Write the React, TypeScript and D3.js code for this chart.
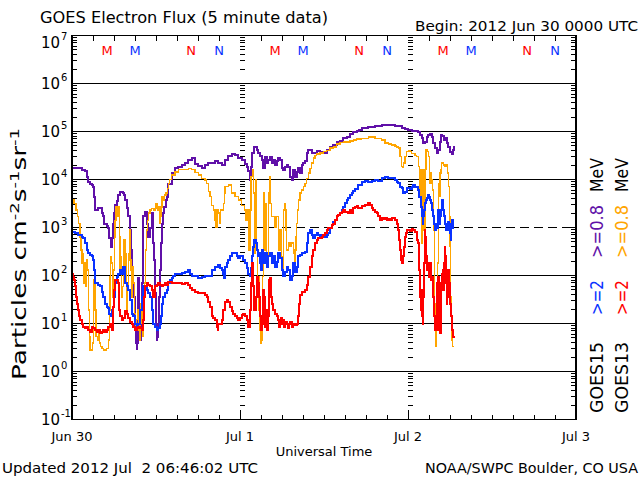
import React from 'react';
import * as d3 from 'd3';

type Pt = [number, number];

// hours since 2012 Jun 30 00:00 UTC, flux
const DAY_LABELS = ['Jun 30', 'Jul 1', 'Jul 2', 'Jul 3'];
const EXPONENTS = [7, 6, 5, 4, 3, 2, 1, 0, -1];
const MARKER_HOURS_G13 = [5, 17];
const MARKER_LABELS_G13 = ['M', 'N'];
const MARKER_HOURS_G15 = [9, 21];
const MARKER_LABELS_G15 = ['M', 'N'];

const g15e08: Pt[] = [[0.1,1.7e4],[1.38,1.6e4],[1.86,1.5e4],[2.1,1.15e4],[2.33,9.0e3],[2.57,8.1e3],[2.81,7.7e3],[3.05,7.1e3],[3.14,4.4e3],[3.29,2.3e3],[3.76,2.5e3],[4.1,2.6e3],[4.24,2.0e3],[4.48,1.7e3],[4.62,1.2e3],[4.95,1.1e3],[5.19,1.0e3],[5.33,5.9e2],[5.52,4.0e2],[5.67,5.9e2],[5.81,1.2e3],[6.0,2.0e3],[6.14,2.9e3],[6.38,3.5e3],[6.62,4.8e3],[6.86,5.6e3],[7.24,5.3e3],[7.43,4.8e3],[7.57,3.7e3],[7.81,2.5e3],[8.05,1.7e3],[8.29,8.9e2],[8.43,3.4e2],[8.52,1.1e2],[8.76,36],[9.0,8.6],[9.1,3.9],[9.24,3.0],[9.33,3.9],[9.38,19],[9.48,87],[9.62,14],[9.71,4.5],[9.81,14],[9.95,69],[10.1,4.7e2],[10.19,1.7e3],[10.43,2.1e3],[10.67,1.2e3],[10.9,6.4e2],[11.14,1.0e3],[11.38,2.0e3],[11.52,8.2e2],[11.62,4.7e2],[11.71,2.1e2],[11.86,43],[11.95,8.6],[12.1,4.5],[12.19,5.3],[12.33,10],[12.48,36],[12.57,1.3e2],[12.67,4.7e2],[12.81,1.2e3],[12.95,2.0e3],[13.19,2.7e3],[13.43,3.7e3],[13.62,4.4e3],[13.76,8.0e3],[14.24,1.35e4],[14.71,1.7e4],[15.19,1.85e4],[15.67,2.0e4],[16.14,2.2e4],[16.62,2.5e4],[17.1,2.8e4],[17.57,2.1e4],[18.05,1.9e4],[18.52,1.7e4],[19.0,2.0e4],[19.48,2.2e4],[19.95,2.2e4],[20.43,2.4e4],[20.9,2.2e4],[21.38,2.0e4],[21.86,2.5e4],[22.33,3.1e4],[22.81,3.4e4],[23.29,3.2e4],[23.76,2.8e4],[24.24,2.5e4],[24.71,2.1e4],[24.95,1.85e4],[25.19,1.5e4],[25.43,9.8e3],[25.57,1.85e4],[25.76,3.5e4],[26.05,4.7e4],[26.38,4.2e4],[26.62,3.5e4],[26.86,3.1e4],[27.1,2.5e4],[27.33,1.7e4],[27.57,3.0e4],[27.81,2.2e4],[28.05,2.5e4],[28.29,3.0e4],[28.52,2.2e4],[28.76,2.5e4],[29.0,2.0e4],[29.24,2.4e4],[29.48,2.8e4],[29.71,2.5e4],[29.95,1.7e4],[30.19,1.6e4],[30.43,1.85e4],[30.67,2.0e4],[30.9,1.85e4],[31.14,1.15e4],[31.38,9.8e3],[31.62,1.6e4],[31.86,1.15e4],[32.1,1.45e4],[32.33,1.7e4],[32.57,1.35e4],[32.81,2.0e4],[33.05,2.2e4],[33.29,2.4e4],[33.52,3.5e4],[33.76,4.2e4],[34.0,4.1e4],[34.24,3.5e4],[34.48,3.6e4],[34.95,4.0e4],[35.43,3.8e4],[35.9,3.6e4],[36.38,4.1e4],[36.86,4.7e4],[37.33,5.2e4],[37.81,5.9e4],[38.29,6.4e4],[38.76,7.2e4],[39.24,7.8e4],[39.71,8.9e4],[40.19,9.6e4],[40.67,1.04e5],[41.05,1.1e5],[41.38,1.16e5],[42.33,1.26e5],[43.29,1.3e5],[44.24,1.37e5],[45.19,1.37e5],[46.14,1.3e5],[47.1,1.2e5],[47.57,1.13e5],[48.05,1.07e5],[48.52,1.04e5],[49.0,1.04e5],[49.48,9.9e4],[49.71,8.5e4],[49.95,7.2e4],[50.19,5.7e4],[50.43,6.1e4],[50.67,7.8e4],[50.9,8.5e4],[51.14,8.9e4],[51.38,7.8e4],[51.62,5.7e4],[51.86,4.5e4],[52.1,3.5e4],[52.33,4.1e4],[52.57,6.1e4],[52.71,8.5e4],[52.9,8.1e4],[53.1,6.7e4],[53.29,7.2e4],[53.52,5.7e4],[53.76,4.8e4],[54.0,3.8e4],[54.24,3.4e4],[54.38,4.2e4],[54.52,4.8e4],[54.62,4.5e4]];

const g13e08: Pt[] = [[0.0,3.7e3],[0.29,3.2e3],[0.57,2.3e3],[0.76,1.7e3],[0.95,1.2e3],[1.14,6.4e2],[1.29,3.4e2],[1.43,1.8e2],[1.52,2.9e2],[1.62,69],[1.71,1.8e2],[1.86,95],[2.0,59],[2.1,2.1e2],[2.24,1.3e2],[2.33,19],[2.48,5.3],[2.57,2.8],[2.81,2.8],[2.95,3.9],[3.05,22],[3.14,81],[3.29,19],[3.43,5.3],[3.62,4.5],[3.76,7.3],[3.9,3.9],[4.1,3.3],[4.29,3.0],[4.48,2.8],[4.71,2.8],[4.95,3.0],[5.19,4.5],[5.33,19],[5.43,95],[5.52,2.5e2],[5.67,1.8e2],[5.81,36],[5.9,1.3e2],[6.05,6.4e2],[6.14,1.4e3],[6.29,2.7e3],[6.48,1.7e3],[6.62,2.7e3],[6.76,6.4e2],[6.86,1.3e2],[6.95,2.5e2],[7.1,36],[7.24,59],[7.33,1.5e2],[7.43,5.5e2],[7.57,2.9e2],[7.71,69],[7.81,19],[7.9,50],[8.05,2.9e2],[8.19,8.9e2],[8.29,2.1e2],[8.43,1.3e2],[8.52,36],[8.67,1.5e2],[8.76,69],[8.9,16],[9.05,8.6],[9.24,12],[9.38,19],[9.48,7.3],[9.62,4.5],[9.71,10],[9.86,26],[9.95,19],[10.1,5.3],[10.19,19],[10.33,69],[10.48,3.4e2],[10.67,8.9e2],[10.81,1.4e3],[10.95,2.0e3],[11.14,2.3e3],[11.38,2.5e3],[11.62,2.3e3],[11.86,2.5e3],[12.0,3.2e3],[12.19,2.3e3],[12.33,2.7e3],[12.48,1.2e3],[12.57,1.7e3],[12.71,2.7e3],[12.86,4.4e3],[13.05,3.7e3],[13.24,4.8e3],[13.43,5.2e3],[13.62,6.5e3],[13.81,8.3e3],[13.95,1.0e4],[14.24,1.25e4],[14.71,1.45e4],[15.19,1.6e4],[15.67,1.6e4],[16.14,1.6e4],[16.62,1.7e4],[17.1,1.6e4],[17.57,1.4e4],[18.05,1.25e4],[18.52,1.06e4],[19.0,9.8e3],[19.24,8.3e3],[19.48,5.6e3],[19.71,4.4e3],[19.95,2.9e3],[20.19,2.3e3],[20.43,1.4e3],[20.57,1.0e3],[20.71,2.3e3],[20.9,2.0e3],[21.05,1.2e3],[21.19,2.3e3],[21.38,2.3e3],[21.62,3.2e3],[21.76,5.2e3],[21.86,7.1e3],[22.33,7.7e3],[22.81,5.2e3],[23.29,4.4e3],[23.76,3.7e3],[24.24,2.9e3],[24.62,2.3e3],[24.81,1.4e3],[25.0,2.3e3],[25.19,1.0e3],[25.29,3.4e2],[25.43,2.3e3],[25.57,1.15e4],[25.76,1.6e4],[25.9,5.2e3],[26.05,2.9e2],[26.24,9.8e3],[26.38,4.7e2],[26.52,95],[26.71,19],[26.86,7.3],[27.0,3.9],[27.1,4.5],[27.19,95],[27.33,5.2e3],[27.43,3.4e2],[27.57,3.2e3],[27.81,2.1e2],[28.05,5.2e3],[28.19,1.15e4],[28.29,3.2e3],[28.52,1.7e3],[28.76,1.7e3],[29.0,1.0e3],[29.24,1.7e3],[29.48,3.4e2],[29.71,8.9e2],[29.95,2.5e2],[30.1,1.3e2],[30.19,2.3e3],[30.33,3.2e3],[30.48,2.3e3],[30.57,8.9e2],[30.67,3.4e2],[30.9,4.7e2],[31.14,4.0e2],[31.38,4.7e2],[31.62,2.9e2],[31.76,1.5e2],[31.86,3.4e2],[32.0,6.4e2],[32.1,1.2e3],[32.24,2.3e3],[32.38,3.7e3],[32.57,5.2e3],[32.81,6.0e3],[33.05,7.1e3],[33.29,8.3e3],[33.52,1.06e4],[33.76,1.35e4],[34.0,1.7e4],[34.24,2.2e4],[34.48,2.8e4],[34.71,3.2e4],[34.95,3.4e4],[35.43,3.6e4],[35.9,3.8e4],[36.38,4.0e4],[36.86,4.5e4],[37.33,4.8e4],[37.81,5.5e4],[38.29,5.9e4],[38.76,6.1e4],[39.24,6.1e4],[39.71,6.4e4],[40.19,6.7e4],[40.67,6.9e4],[41.38,7.2e4],[42.33,7.6e4],[43.29,7.2e4],[44.24,6.7e4],[44.71,5.7e4],[45.19,5.5e4],[45.67,5.2e4],[46.14,5.0e4],[46.38,4.8e4],[46.62,4.5e4],[46.86,3.0e4],[47.1,1.85e4],[47.24,1.8e4],[47.38,2.2e4],[47.57,3.0e4],[47.81,3.8e4],[48.05,4.0e4],[48.29,3.8e4],[48.52,3.5e4],[49.0,3.2e4],[49.24,3.0e4],[49.48,1.85e4],[49.62,1.15e4],[49.71,4.4e3],[49.81,1.6e4],[49.9,1.15e4],[50.0,4.7e2],[50.1,1.6e4],[50.19,2.3e3],[50.29,8.9e2],[50.43,1.6e4],[50.57,4.1e4],[50.76,3.8e4],[50.9,3.0e4],[51.05,8.3e3],[51.14,1.35e4],[51.29,9.8e3],[51.43,8.3e3],[51.52,6.0e3],[51.62,8.9e2],[51.76,26],[51.9,7.3],[52.0,3.3],[52.1,7.3],[52.19,1.8e2],[52.33,8.3e3],[52.48,4.4e3],[52.57,1.35e4],[52.71,1.6e4],[52.81,2.2e4],[53.05,2.0e4],[53.29,1.85e4],[53.52,2.0e4],[53.67,1.35e4],[53.76,7.1e3],[53.9,1.7e3],[54.0,4.0e2],[54.1,36],[54.19,10],[54.29,4.5],[54.38,3.3],[54.57,3.3]];

const g15e2: Pt[] = [[0.0,8.2e2],[0.43,7.6e2],[0.9,7.0e2],[1.38,6.4e2],[1.62,5.9e2],[1.86,4.7e2],[2.1,3.4e2],[2.33,2.9e2],[2.57,2.7e2],[2.81,2.5e2],[3.05,2.1e2],[3.14,1.3e2],[3.29,69],[3.52,69],[3.76,63],[4.0,59],[4.24,46],[4.48,36],[4.71,26],[4.95,22],[5.19,21],[5.33,16],[5.52,14],[5.67,19],[5.81,22],[6.0,36],[6.14,69],[6.38,95],[6.62,1.1e2],[6.86,1.3e2],[7.1,1.1e2],[7.33,1.5e2],[7.57,69],[7.81,59],[8.05,50],[8.29,31],[8.52,16],[8.76,14],[9.0,10],[9.24,8.6],[9.48,10],[9.71,19],[9.95,36],[10.19,59],[10.43,59],[10.67,50],[10.9,43],[11.14,36],[11.38,19],[11.62,10],[11.86,8.6],[12.1,7.3],[12.33,8.0],[12.57,10],[12.71,14],[12.86,26],[13.05,36],[13.29,43],[13.52,50],[13.76,69],[14.0,81],[14.24,87],[14.48,1.0e2],[14.71,1.07e2],[15.19,1.1e2],[15.67,1.15e2],[16.14,1.2e2],[16.62,1.3e2],[16.86,1.1e2],[17.1,1.0e2],[17.57,98],[18.05,87],[18.52,95],[19.0,98],[19.48,1.0e2],[19.95,1.3e2],[20.43,1.5e2],[20.9,1.65e2],[21.14,1.4e2],[21.38,1.3e2],[21.62,1.1e2],[21.76,87],[21.86,1.5e2],[22.1,1.8e2],[22.33,2.1e2],[22.57,2.5e2],[22.81,2.9e2],[23.05,3.0e2],[23.29,2.9e2],[23.52,2.5e2],[23.76,2.3e2],[24.0,2.5e2],[24.24,2.5e2],[24.48,2.1e2],[24.71,1.8e2],[24.95,1.4e2],[25.19,1.1e2],[25.43,1.0e2],[25.57,1.4e2],[25.76,2.5e2],[25.9,4.0e2],[26.05,5.5e2],[26.24,4.7e2],[26.38,3.4e2],[26.52,2.5e2],[26.71,2.9e2],[26.86,1.8e2],[27.0,1.3e2],[27.1,3.4e2],[27.33,1.8e2],[27.57,2.9e2],[27.81,1.5e2],[28.05,2.5e2],[28.29,2.9e2],[28.52,1.8e2],[28.76,2.5e2],[29.0,1.5e2],[29.24,1.9e2],[29.48,2.9e2],[29.71,2.3e2],[29.95,1.3e2],[30.19,1.0e2],[30.43,1.2e2],[30.67,1.5e2],[30.9,1.3e2],[31.14,81],[31.38,1.0e2],[31.62,1.8e2],[31.86,1.2e2],[32.1,1.5e2],[32.33,2.5e2],[32.57,2.7e2],[32.81,2.9e2],[33.05,2.9e2],[33.29,3.1e2],[33.52,4.7e2],[33.76,7.6e2],[34.0,8.9e2],[34.24,7.0e2],[34.48,5.9e2],[34.71,7.0e2],[34.95,7.6e2],[35.19,7.0e2],[35.43,5.9e2],[35.67,7.0e2],[35.9,6.4e2],[36.38,7.0e2],[36.62,7.6e2],[36.86,9.6e2],[37.1,1.13e3],[37.33,1.3e3],[37.57,1.4e3],[37.81,1.7e3],[38.05,1.8e3],[38.29,2.0e3],[38.52,2.3e3],[38.76,2.7e3],[39.0,3.2e3],[39.24,3.7e3],[39.48,4.2e3],[39.71,4.8e3],[39.95,5.3e3],[40.19,5.8e3],[40.43,6.2e3],[40.9,7.7e3],[41.38,9.0e3],[41.86,9.5e3],[42.33,9.0e3],[42.81,9.5e3],[43.29,9.8e3],[43.76,9.5e3],[44.24,1.06e4],[44.71,1.15e4],[45.19,1.1e4],[45.67,1.06e4],[46.14,9.8e3],[46.38,9.0e3],[46.62,8.3e3],[46.86,7.1e3],[47.1,6.5e3],[47.33,5.2e3],[47.57,5.6e3],[47.81,6.5e3],[48.29,6.2e3],[48.52,7.1e3],[48.76,7.7e3],[49.0,7.1e3],[49.24,7.1e3],[49.48,6.0e3],[49.62,4.4e3],[49.81,2.7e3],[49.95,1.7e3],[50.1,1.2e3],[50.19,1.7e3],[50.33,2.3e3],[50.43,3.2e3],[50.57,3.7e3],[50.67,4.1e3],[50.81,4.8e3],[50.95,4.4e3],[51.14,3.7e3],[51.29,3.2e3],[51.43,2.3e3],[51.62,1.7e3],[51.76,1.2e3],[51.9,8.9e2],[52.0,1.2e3],[52.1,1.0e3],[52.24,1.7e3],[52.33,2.3e3],[52.48,1.2e3],[52.57,1.7e3],[52.67,2.3e3],[52.81,3.7e3],[52.95,3.2e3],[53.05,2.3e3],[53.19,1.7e3],[53.29,1.2e3],[53.43,8.9e2],[53.52,1.0e3],[53.67,1.3e3],[53.81,1.0e3],[53.9,8.9e2],[54.0,7.6e2],[54.1,5.5e2],[54.19,1.2e3],[54.29,1.4e3],[54.38,1.2e3],[54.48,1.0e3],[54.57,1.0e3]];

const g13e2: Pt[] = [[0.0,1.1e2],[0.1,95],[0.29,81],[0.43,59],[0.57,36],[0.76,26],[0.9,19],[1.05,14],[1.14,12],[1.38,10],[1.62,8.6],[1.86,7.9],[2.1,8.6],[2.33,7.3],[2.57,6.8],[2.81,8.6],[3.05,7.9],[3.29,7.3],[3.52,6.8],[3.76,7.3],[4.0,6.2],[4.24,6.8],[4.48,7.3],[4.71,6.8],[4.95,7.3],[5.19,8.6],[5.43,10],[5.67,7.3],[5.81,10],[5.9,22],[6.05,50],[6.19,81],[6.38,81],[6.52,69],[6.67,43],[6.76,19],[6.86,14],[7.1,12],[7.33,13],[7.57,18],[7.81,16],[8.05,13],[8.29,11],[8.52,10],[8.76,8.6],[9.0,7.3],[9.24,7.9],[9.48,8.6],[9.71,7.9],[9.95,7.3],[10.19,12],[10.33,36],[10.48,59],[10.67,69],[10.9,63],[11.14,59],[11.38,50],[11.62,36],[11.86,59],[12.1,63],[12.33,69],[12.57,63],[12.81,59],[13.05,63],[13.29,69],[13.52,63],[13.76,74],[14.24,69],[14.71,69],[15.19,71],[15.67,66],[16.14,69],[16.62,63],[16.86,54],[17.1,50],[17.57,46],[18.05,43],[18.52,43],[19.0,39],[19.24,36],[19.48,28],[19.71,22],[19.95,14],[20.19,13],[20.43,12],[20.67,8.6],[20.81,7.3],[20.9,10],[21.14,10],[21.38,12],[21.62,19],[21.86,28],[22.1,31],[22.33,28],[22.57,22],[22.81,18],[23.05,16],[23.29,14],[23.52,13],[23.76,12],[24.0,13],[24.24,15],[24.48,16],[24.71,14],[24.95,12],[25.19,8.6],[25.43,19],[25.57,69],[25.76,1.8e2],[25.9,59],[26.05,19],[26.24,36],[26.38,95],[26.52,69],[26.71,36],[26.86,14],[27.0,7.3],[27.1,10],[27.24,43],[27.33,50],[27.43,36],[27.57,8.6],[27.71,19],[27.81,14],[27.9,7.3],[28.05,14],[28.19,81],[28.29,87],[28.43,36],[28.57,26],[28.76,19],[29.0,16],[29.24,14],[29.48,12],[29.62,8.6],[29.71,10],[29.81,13],[29.95,10],[30.19,12],[30.29,8.6],[30.43,11],[30.67,10],[30.9,7.9],[31.05,10],[31.14,11],[31.38,8.6],[31.62,10],[31.86,9.3],[32.1,10],[32.24,14],[32.38,26],[32.57,39],[32.81,46],[33.05,46],[33.29,50],[33.52,63],[33.76,95],[34.0,1.5e2],[34.24,2.5e2],[34.48,3.4e2],[34.71,4.7e2],[34.95,5.5e2],[35.19,5.9e2],[35.43,5.9e2],[35.67,6.4e2],[35.9,7.0e2],[36.14,7.6e2],[36.38,8.9e2],[36.62,9.6e2],[36.86,9.6e2],[37.1,1.13e3],[37.33,1.2e3],[37.57,1.4e3],[37.81,1.7e3],[38.05,1.8e3],[38.29,2.0e3],[38.52,2.1e3],[38.76,2.3e3],[39.0,2.1e3],[39.24,2.1e3],[39.48,2.0e3],[39.71,2.3e3],[39.95,2.0e3],[40.19,2.5e3],[40.43,2.7e3],[40.67,2.8e3],[40.9,2.6e3],[41.38,2.8e3],[41.86,2.9e3],[42.33,3.2e3],[42.57,2.9e3],[42.81,2.6e3],[43.05,2.3e3],[43.29,2.1e3],[43.52,2.0e3],[43.76,1.7e3],[44.0,1.4e3],[44.24,1.55e3],[44.48,1.5e3],[44.71,1.55e3],[44.95,1.4e3],[45.19,1.5e3],[45.43,1.4e3],[45.67,1.55e3],[46.14,1.4e3],[46.38,1.2e3],[46.62,8.9e2],[46.76,5.5e2],[46.86,3.4e2],[47.0,2.1e2],[47.1,1.8e2],[47.24,2.5e2],[47.38,2.9e2],[47.48,4.0e2],[47.57,6.4e2],[47.71,7.6e2],[47.86,8.9e2],[48.05,8.9e2],[48.29,8.6e2],[48.52,9.2e2],[48.76,8.9e2],[49.0,8.2e2],[49.24,5.5e2],[49.38,4.7e2],[49.52,3.4e2],[49.62,1.3e2],[49.71,36],[49.81,19],[49.9,50],[50.0,14],[50.1,10],[50.19,36],[50.29,1.8e2],[50.38,8.9e2],[50.48,6.4e2],[50.57,2.5e2],[50.67,1.8e2],[50.76,1.3e2],[50.9,1.8e2],[51.05,95],[51.14,1.8e2],[51.29,81],[51.43,95],[51.52,69],[51.62,36],[51.71,14],[51.81,7.3],[51.9,10],[52.0,7.3],[52.1,19],[52.19,69],[52.29,95],[52.38,50],[52.48,7.3],[52.57,6.2],[52.67,50],[52.76,69],[52.86,1.1e2],[52.95,1.3e2],[53.05,50],[53.14,1.8e2],[53.24,4.0e2],[53.33,2.5e2],[53.43,69],[53.52,26],[53.62,36],[53.76,1.3e2],[53.9,69],[54.0,26],[54.1,14],[54.24,7.3],[54.38,6.2],[54.48,5.3],[54.62,4.9]];

const PURPLE = '#6010a8';
const ORANGE = '#ffa500';
const BLUE = '#0a32ff';
const RED = '#ff0000';
const FONT = "'DejaVu Sans', 'Liberation Sans', sans-serif";

export default function App() {
  const left = 72, right = 576, top = 35.5, bottom = 419.5;
  const x = d3.scaleLinear().domain([0, 72]).range([left, right]);
  const y = d3.scaleLog().domain([1e-1, 1e7]).range([bottom, top]);
  const line = d3.line<Pt>().x(d => x(d[0])).y(d => y(d[1])).curve(d3.curveStepAfter);

  const decades = EXPONENTS.map(e => Math.pow(10, e));
  const minor: number[] = [];
  for (let e = -1; e < 7; e++) for (let k = 2; k <= 9; k++) minor.push(k * Math.pow(10, e));
  const hourTicks = d3.range(0, 73, 3);
  const dayHours = [0, 24, 48, 72];

  const series: { data: Pt[]; color: string; w: number }[] = [
    { data: g15e08, color: PURPLE, w: 2 },
    { data: g13e08, color: ORANGE, w: 1.5 },
    { data: g15e2, color: BLUE, w: 2 },
    { data: g13e2, color: RED, w: 2 },
  ];

  const markerDays = [0, 1, 2];

  return (
    <svg width={640} height={480} viewBox="0 0 640 480"
      style={{ position: 'absolute', left: 0, top: 0, display: 'block', background: '#fff' }}
      fontFamily={FONT}>
      <rect x={0} y={0} width={640} height={480} fill="#fff" />
      {/* gridlines */}
      {decades.filter(v => v > 0.1 && v < 1e7).map(v => (
        <line key={'g' + v} x1={left} x2={right} y1={y(v)} y2={y(v)} stroke="#000"
          strokeWidth={1.5} strokeDasharray={v === 1e3 ? '9,5' : undefined} shapeRendering="crispEdges" />
      ))}
      {/* minor y ticks: left, right axes and day boundaries */}
      {minor.map(v => (
        <g key={'m' + v} shapeRendering="crispEdges">
          <line x1={left} x2={left + 5} y1={y(v)} y2={y(v)} stroke="#000" strokeWidth={1} />
          <line x1={right - 5} x2={right} y1={y(v)} y2={y(v)} stroke="#000" strokeWidth={1} />
          {[24, 48].map(h => (
            <line key={h} x1={x(h)} x2={x(h) + 5} y1={y(v)} y2={y(v)} stroke="#000" strokeWidth={1} />
          ))}
        </g>
      ))}
      {/* major y ticks */}
      {decades.map(v => (
        <g key={'M' + v} shapeRendering="crispEdges">
          <line x1={left} x2={left + 10} y1={y(v)} y2={y(v)} stroke="#000" strokeWidth={1.5} />
          <line x1={right - 10} x2={right} y1={y(v)} y2={y(v)} stroke="#000" strokeWidth={1.5} />
        </g>
      ))}
      {/* x ticks */}
      {hourTicks.map(h => {
        const isDay = dayHours.includes(h);
        return (
          <g key={'t' + h} shapeRendering="crispEdges">
            <line x1={x(h)} x2={x(h)} y1={bottom} y2={bottom - (isDay ? 10 : 5)} stroke="#000" strokeWidth={1} />
            {!isDay && <line x1={x(h)} x2={x(h)} y1={top} y2={top + 5} stroke="#000" strokeWidth={1} />}
          </g>
        );
      })}
      {/* data */}
      {series.map((s, i) => (
        <path key={'s' + i} d={line(s.data) || ''} fill="none" stroke={s.color} strokeWidth={s.w}
          shapeRendering="crispEdges" />
      ))}
      {/* frame */}
      <rect x={left} y={top} width={right - left} height={bottom - top} fill="none" stroke="#000"
        strokeWidth={1.5} shapeRendering="crispEdges" />
      {/* M/N markers */}
      {markerDays.map(d => (
        <g key={'mk' + d} fontSize={13}>
          {MARKER_HOURS_G13.map((h, i) => (
            <text key={'a' + i} x={x(d * 24 + h)} y={55} fill={RED} textAnchor="middle">{MARKER_LABELS_G13[i]}</text>
          ))}
          {MARKER_HOURS_G15.map((h, i) => (
            <text key={'b' + i} x={x(d * 24 + h)} y={55} fill={BLUE} textAnchor="middle">{MARKER_LABELS_G15[i]}</text>
          ))}
        </g>
      ))}
      {/* y tick labels */}
      {EXPONENTS.map(e => {
        const yy = Math.max(y(Math.pow(10, e)), top + 7);
        return (
          <g key={'yl' + e}>
            <text x={60} y={yy + 5} fontSize={15} textAnchor="end">10</text>
            <text x={61} y={yy - 3} fontSize={10} textAnchor="start">{e < 0 ? '-' + Math.abs(e) : String(e)}</text>
          </g>
        );
      })}
      {/* x tick labels */}
      {DAY_LABELS.map((lab, i) => (
        <text key={'xl' + i} x={x(dayHours[i])} y={441} fontSize={13} textAnchor="middle">{lab}</text>
      ))}
      <text x={324} y={456} fontSize={13} textAnchor="middle">Universal Time</text>
      {/* y axis title */}
      <text transform="translate(26,254) rotate(-90)" fontSize={19} textAnchor="middle" textLength={252} lengthAdjust="spacingAndGlyphs">
        Particles cm<tspan dy={-7} fontSize={13}>-2</tspan><tspan dy={7}>s</tspan><tspan dy={-7} fontSize={13}>-1</tspan><tspan dy={7}>sr</tspan><tspan dy={-7} fontSize={13}>-1</tspan>
      </text>
      {/* titles */}
      <text x={40} y={23} fontSize={16} textLength={288} lengthAdjust="spacingAndGlyphs">GOES Electron Flux (5 minute data)</text>
      <text x={638} y={31} fontSize={14} textAnchor="end" textLength={223} lengthAdjust="spacingAndGlyphs">Begin: 2012 Jun 30 0000 UTC</text>
      <text x={2} y={473} fontSize={14} textLength={256} lengthAdjust="spacingAndGlyphs" style={{ whiteSpace: 'pre' }}>Updated 2012 Jul  2 06:46:02 UTC</text>
      <text x={638} y={473} fontSize={14} textAnchor="end" textLength={213} lengthAdjust="spacingAndGlyphs">NOAA/SWPC Boulder, CO USA</text>
      {/* right-side legend */}
      <g fontSize={17}>
        <text transform="translate(603,413) rotate(-90)" textLength={71} lengthAdjust="spacingAndGlyphs">GOES15</text>
        <text transform="translate(603,315) rotate(-90)" fill={BLUE} textLength={35} lengthAdjust="spacingAndGlyphs">&gt;=2</text>
        <text transform="translate(603,258) rotate(-90)" fill={PURPLE} textLength={53} lengthAdjust="spacingAndGlyphs">&gt;=0.8</text>
        <text transform="translate(603,192) rotate(-90)" textLength={34} lengthAdjust="spacingAndGlyphs">MeV</text>
        <text transform="translate(628,413) rotate(-90)" textLength={71} lengthAdjust="spacingAndGlyphs">GOES13</text>
        <text transform="translate(628,315) rotate(-90)" fill={RED} textLength={35} lengthAdjust="spacingAndGlyphs">&gt;=2</text>
        <text transform="translate(628,258) rotate(-90)" fill={ORANGE} textLength={53} lengthAdjust="spacingAndGlyphs">&gt;=0.8</text>
        <text transform="translate(628,192) rotate(-90)" textLength={34} lengthAdjust="spacingAndGlyphs">MeV</text>
      </g>
    </svg>
  );
}
